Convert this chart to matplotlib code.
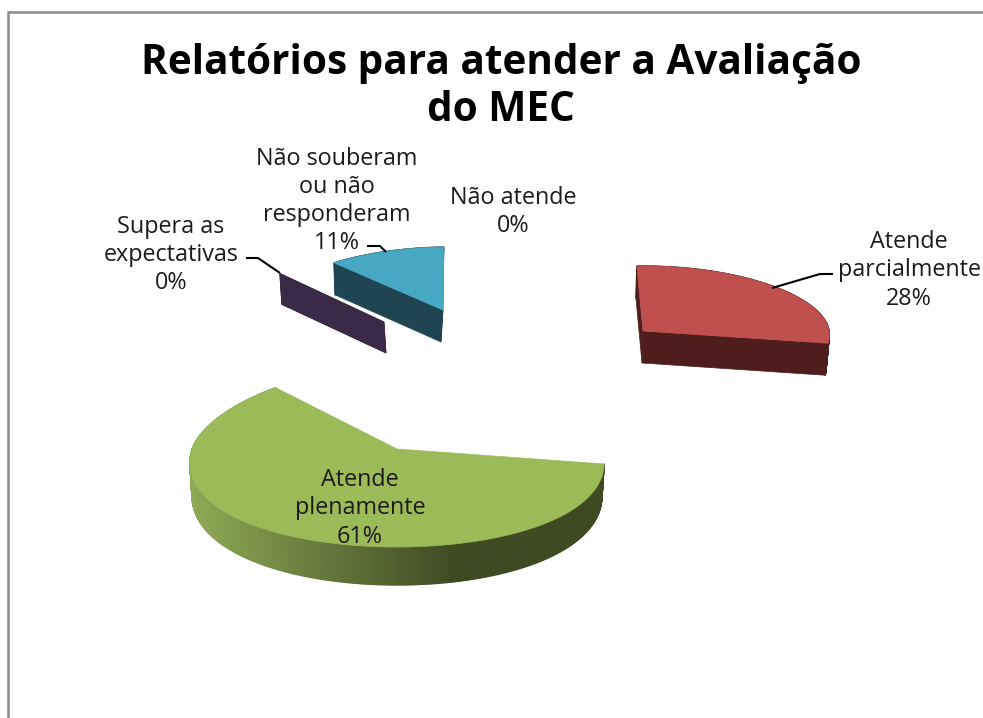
import numpy as np
import matplotlib
matplotlib.use("Agg")
import matplotlib.pyplot as plt
from matplotlib.patches import Polygon
from matplotlib.collections import PolyCollection
from matplotlib.colors import to_rgb

# ---- data
categories = ["Não atende", "Atende\nparcialmente", "Atende\nplenamente",
              "Supera as\nexpectativas", "Não souberam\nou não\nresponderam"]
values = [0, 28, 61, 0, 11]
title = "Relatórios para atender a Avaliação\ndo MEC"

# ---- style / layout (pixel space of the figure)
START_ANGLE = 92.0
top_colors = ["#4F81BD", "#C0504D", "#9BBB59", "#3B2A47", "#47A8C4"]
side_colors = ["#243F5E", "#4F1E1C", "#3F4A23", "#3B2A47", "#1F4552"]
geometry = [
    None,
    dict(c=(643, 331), rx=186, up=65, dn=80, k=0.05, s=0.0, d0=32, d1=0, ox=-1, conv=-0.011),
    dict(c=(397, 449), rx=205, up=82, dn=98, k=0.146, s=0.0, d0=32, d1=6, ox=0, conv=-0.01),
    dict(c=(384, 322), rx=157, up=65, dn=65, k=0.0, s=0.0, d0=31, d1=0, ox=2, conv=0.0),
    dict(c=(443, 310), rx=172, up=63, dn=63, k=0.0, s=-0.11, d0=32, d1=0, ox=-2, conv=-0.028),
]
label_pos = [(513, 212), (909, 270.5), (360, 508.5), (171, 255), (337, 201)]
leaders = {
    1: [(833, 274), (820, 274), (772, 288)],
    3: [(246, 258), (258, 258), (280, 273)],
    4: [(367, 246), (380, 246), (386, 252)],
}
FONT = "Open Sans"
TEXT = "#1c1c1c"

fig = plt.figure(figsize=(9.83, 7.18), dpi=100)
ax = fig.add_axes([0, 0, 1, 1])
ax.set_xlim(0, 983)
ax.set_ylim(718, 0)
ax.axis("off")


def project(t, g):
    """Rim point of a tilted pie at angle t (deg)."""
    r = np.radians(np.atleast_1d(t))
    sn, cs = np.sin(r), np.cos(r)
    dy = -np.where(sn > 0, g["up"], g["dn"]) * sn
    dx = g["rx"] * cs * (1 - g["k"] * sn) + g["s"] * dy
    return dx, dy, sn


def extrude(dx, dy, sn, g):
    x0, y0 = g["c"]
    top = np.column_stack([x0 + dx, y0 + dy])
    bot = np.column_stack([x0 + dx + g["ox"] + g["conv"] * dx,
                           y0 + dy + g["d0"] - g["d1"] * sn])
    return top, bot


# angles of each wedge, clockwise from the start angle
shares = np.array(values, dtype=float) / np.sum(values)
ends = START_ANGLE - 360 * np.cumsum(shares)
starts = np.concatenate([[START_ANGLE], ends[:-1]])

dark_c, light_c = np.array(to_rgb("#3F4A23")), np.array(to_rgb("#8DAA55"))

for i in [3, 4, 1, 2]:
    g = geometry[i]
    a0, a1 = starts[i], ends[i]
    n = max(2, int(abs(a0 - a1) * 2))
    ts = np.linspace(a0, a1, n)
    dx, dy, sn = project(ts, g)
    top, bot = extrude(dx, dy, sn, g)
    apex = np.array(g["c"], dtype=float)
    apex_bot = apex + [g["ox"], g["d0"]]

    # radial walls (the green one stays hidden under its rim and top)
    if i != 2:
        for k_end in (0, -1):
            ax.add_patch(Polygon([apex, top[k_end], bot[k_end], apex_bot],
                                 closed=True, fc=side_colors[i], ec=side_colors[i], lw=0.5))
    # rim wall
    if abs(a0 - a1) > 0:
        quads = [[top[j], top[j + 1], bot[j + 1], bot[j]] for j in range(n - 1)]
        if i == 2:
            xs = top[:-1, 0]
            f = np.clip((xs - 190) / (455 - 190), 0, 1)[:, None]
            cols = light_c * (1 - f) + dark_c * f
        else:
            cols = [side_colors[i]] * (n - 1)
        ax.add_collection(PolyCollection(quads, facecolors=cols, edgecolors=cols, linewidths=0.9))
        # top face
        ax.add_patch(Polygon(np.vstack([apex, top]), closed=True,
                             fc=top_colors[i], ec=top_colors[i], lw=0.5))

# leader lines
for pts in leaders.values():
    xs, ys = zip(*pts)
    ax.plot(xs, ys, color="black", lw=1.5, solid_capstyle="butt")

# labels
for name, v, (x, y) in zip(categories, values, label_pos):
    ax.text(x, y, f"{name}\n{v}%", ha="center", va="center", fontsize=16.8,
            family=FONT, color=TEXT, linespacing=1.24)

# title
ax.text(501, 87, title, ha="center", va="center", fontsize=29.2, family=FONT,
        fontweight="bold", color="black", linespacing=1.22)

# clipped chart frame
ax.plot([983, 8, 8], [12, 12, 718], color="#8C8C8C", lw=1.8, solid_joinstyle="miter")

fig.savefig("out.png", dpi=100, facecolor="white")
